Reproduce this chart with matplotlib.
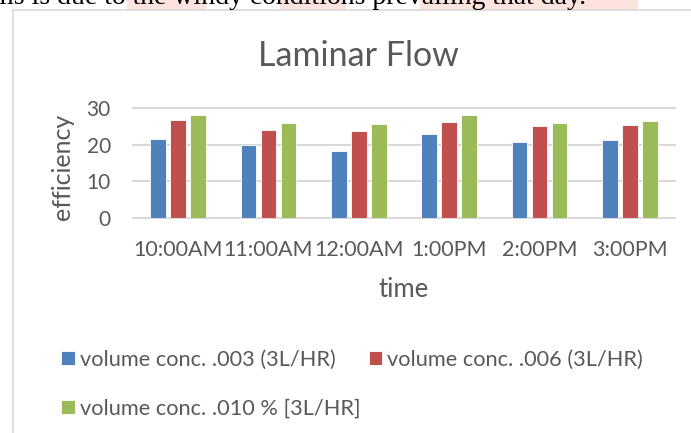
import matplotlib
matplotlib.use("Agg")
import matplotlib.pyplot as plt
import numpy as np
from matplotlib.patches import Rectangle
from matplotlib.lines import Line2D

categories = ["10:00AM", "11:00AM", "12:00AM", "1:00PM", "2:00PM", "3:00PM"]
conc_003 = [21.5, 19.9, 18.3, 23.0, 20.9, 21.3]
conc_006 = [26.8, 24.1, 23.9, 26.2, 25.2, 25.3]
conc_010 = [28.3, 26.0, 25.8, 28.2, 26.1, 26.5]
series_labels = ["volume conc. .003 (3L/HR)", "volume conc. .006 (3L/HR)",
                 "volume conc. .010 % [3L/HR]"]
colors = ["#4F81BD", "#C0504D", "#9BBB59"]
yticks = [0, 10, 20, 30]

FONT = "Lato"
GRAY = "#595959"

fig = plt.figure(figsize=(6.91, 4.33), dpi=100)
W, H = 691, 433

def fx(px):
    return px / W

def fy(py):
    return 1 - py / H

# pink highlight behind the top text
for x0, x1 in [(127, 205), (280, 345), (420, 637)]:
    fig.patches.append(Rectangle((fx(x0), fy(9)), fx(x1 - x0), 9 / H,
                                 transform=fig.transFigure, color="#fde3de",
                                 zorder=0))
fig.text(fx(-8), fy(3.5), "ms is due to the windy conditions prevailing that day.",
         family="Liberation Serif", fontsize=20, color="black", va="baseline",
         ha="left")

# chart border
fig.add_artist(Line2D([fx(13), fx(13)], [fy(9.5), 0], transform=fig.transFigure,
                      color="#d9d9d9", lw=1.2))
fig.add_artist(Line2D([fx(13), 1], [fy(9.5), fy(9.5)], transform=fig.transFigure,
                      color="#d9d9d9", lw=1.2))

ax = fig.add_axes([fx(133), fy(218), fx(675 - 133), (218 - 108.3) / H])
x = np.arange(len(categories))
bw = 0.172
step = 0.222
for i, (vals, c, lab) in enumerate(zip([conc_003, conc_006, conc_010], colors,
                                       series_labels)):
    ax.bar(x + (i - 1) * step, vals, width=bw, color=c, edgecolor="white",
           linewidth=0.6, label=lab, zorder=3)

ax.set_xlim(-0.5, len(categories) - 0.5)
ax.set_ylim(0, 30)
ax.set_yticks(yticks)
ax.set_yticklabels([str(t) for t in yticks], family=FONT, fontsize=15, color=GRAY)
ax.set_xticks(x)
ax.set_xticklabels(categories, family=FONT, fontsize=15.5, color=GRAY)
ax.tick_params(length=0)
ax.tick_params(axis="y", pad=16)
ax.tick_params(axis="x", pad=16)
for s in ax.spines.values():
    s.set_visible(False)
for t in yticks:
    ax.axhline(t, color="#d9d9d9", lw=1.5, zorder=1, clip_on=False)

fig.text(fx(358), fy(66), "Laminar Flow", family=FONT, fontsize=24.5, color=GRAY,
         ha="center", va="baseline")
fig.text(fx(404), fy(297), "time", family=FONT, fontsize=18.5, color=GRAY,
         ha="center", va="baseline")
fig.text(fx(62.5), fy(167), "efficiency", family=FONT, fontsize=18, color=GRAY,
         ha="center", va="center", rotation=90)

handles, labels = ax.get_legend_handles_labels()
order = [0, 2, 1]
leg = fig.legend([handles[i] for i in order], [labels[i] for i in order],
                 loc="upper left", bbox_to_anchor=(fx(61), fy(350)), ncol=2,
                 frameon=False, prop={"family": FONT, "size": 15.7},
                 handlelength=0.62, handleheight=0.62, handletextpad=0.23,
                 columnspacing=0.4, labelspacing=1.3, labelcolor=GRAY,
                 borderaxespad=0, borderpad=0)

fig.savefig("out.png", dpi=100)
